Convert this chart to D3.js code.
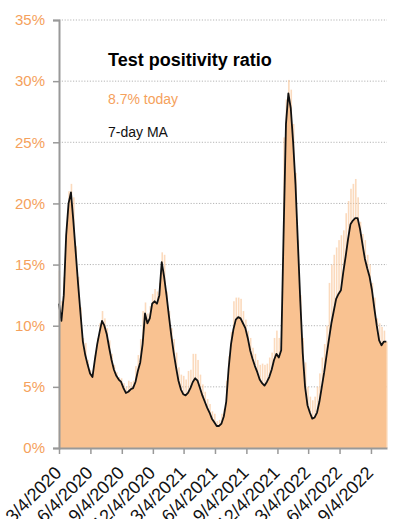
<!DOCTYPE html>
<html lang="en">
<head>
  <meta charset="UTF-8">
  <title>Test positivity ratio</title>
  <script src="https://d3js.org/d3.v7.min.js"></script>
  <style>
    body {
      margin: 0;
      background: #fff;
      font-family: "Liberation Sans", Arial, sans-serif;
    }
    .grid line {
      stroke: #b5b5b5;
      stroke-dasharray: 1.2 1.6;
    }
  </style>
</head>
<body>
  <div id="chart"></div>

  <script>
    const width = 414, height = 519;

    // weekly samples starting 3/4/2020
    const startDate = new Date(2020, 2, 4);
    const endDate = new Date(2022, 9, 21);

    // 7-day moving average (%), one value per week
    const maValues = [
      11.8, 10.4, 12.5, 17.4, 20.0, 20.9, 18.6, 16.0, 13.4, 11.0,
      8.7, 7.6, 6.8, 6.1, 5.8, 7.2, 8.5, 9.5, 10.4, 10.0,
      9.3, 8.2, 7.2, 6.4, 5.9, 5.6, 5.4, 4.9, 4.5, 4.6,
      4.8, 4.9, 5.4, 6.3, 7.0, 8.5, 11.0, 10.2, 10.6, 11.8,
      12.0, 11.8, 12.5, 15.2, 14.0, 12.5, 10.8, 9.2, 7.8, 6.6,
      5.5, 4.8, 4.4, 4.3, 4.5, 4.9, 5.4, 5.7, 5.5, 4.9,
      4.3, 3.8, 3.3, 2.9, 2.4, 2.1, 1.8, 1.8, 2.0, 2.6,
      3.8, 6.5, 8.5, 9.7, 10.5, 10.7, 10.6, 10.2, 9.8, 9.0,
      8.0, 7.3, 6.7, 6.2, 5.6, 5.3, 5.1, 5.4, 5.8, 6.4,
      7.2, 7.7, 7.4, 8.0, 17.5, 26.5, 29.0, 27.8, 25.0, 21.5,
      16.7, 12.0, 7.8, 5.0, 3.5, 2.9, 2.4, 2.5, 2.9, 3.8,
      5.0, 6.2, 7.6, 8.9, 10.2, 11.2, 12.2, 12.6, 12.9, 14.4,
      15.7, 17.1, 18.3, 18.6, 18.8, 18.8, 17.9, 16.7, 15.5, 14.7,
      14.0, 12.9, 11.4, 10.0, 8.8, 8.4, 8.7, 8.7
    ];

    // highest daily ratio (%) in each week
    const dailyPeak = [
      14.5, 12.0, 14.0, 17.6, 21.0, 21.6, 20.5, 16.5, 14.0, 11.5,
      9.0, 8.6, 7.2, 6.4, 6.0, 7.6, 9.0, 10.2, 11.2, 10.6,
      9.8, 8.8, 7.7, 6.8, 6.2, 5.8, 5.7, 5.3, 5.0, 5.5,
      5.4, 5.5, 6.7, 7.6, 8.9, 11.2, 11.9, 11.0, 11.6, 12.6,
      13.0, 12.8, 13.5, 16.0, 15.8, 12.8, 11.2, 9.8, 8.9, 7.8,
      6.6, 6.0, 5.9, 5.6, 6.3, 6.4, 7.7, 7.7, 7.2, 6.0,
      5.2, 4.6, 4.0, 3.6, 3.0, 2.8, 2.2, 2.3, 2.8, 3.2,
      5.5, 7.5, 9.5, 12.0, 12.3, 12.3, 12.2, 11.2, 10.5, 9.6,
      9.0, 8.2, 7.7, 7.2, 6.8, 6.9, 6.8, 6.9, 7.4, 7.8,
      9.0, 9.6, 9.0, 9.6, 25.4, 28.5, 30.1, 29.3, 26.5, 22.5,
      17.0, 12.5, 9.0, 7.0, 5.0, 4.2, 3.9, 4.2, 5.0, 6.1,
      7.4, 8.5, 10.0, 13.5, 15.0, 15.8, 16.4, 17.0, 17.4, 17.8,
      19.2, 20.2, 21.2, 21.6, 22.0, 20.5, 18.5, 17.5, 17.0, 15.8,
      15.0, 13.5, 12.3, 10.6, 10.2, 9.9, 9.6, 8.7
    ];

    const yTicks = [0, 5, 10, 15, 20, 25, 30, 35];
    const xTickDates = [
      "3/4/2020", "6/4/2020", "9/4/2020", "12/4/2020",
      "3/4/2021", "6/4/2021", "9/4/2021", "12/4/2021",
      "3/4/2022", "6/4/2022", "9/4/2022"
    ];
    const todayValue = 8.7;

    const parseDate = d3.timeParse("%-m/%-d/%Y");
    const data = maValues.map((v, i) => ({
      date: d3.timeDay.offset(startDate, i * 7),
      ma: v,
      peak: dailyPeak[i]
    }));

    const margin = {top: 20, right: 27, bottom: 71, left: 59};

    const svg = d3.select("#chart")
                  .append("svg")
                  .attr("width", width)
                  .attr("height", height);

    const x = d3.scaleTime()
                .domain([startDate, endDate])
                .range([margin.left, width - margin.right]);

    const y = d3.scaleLinear()
                .domain([0, 35])
                .range([height - margin.bottom, margin.top]);

    const orange = "#f5a15c";
    const fillColor = "#f9c291";

    // gridlines
    svg.append("g")
       .attr("class", "grid")
       .selectAll("line")
       .data(yTicks.filter(d => d > 0))
       .join("line")
       .attr("x1", margin.left)
       .attr("x2", width - margin.right)
       .attr("y1", d => y(d))
       .attr("y2", d => y(d));

    // daily spikes (lighter, thin)
    svg.append("g")
       .selectAll("rect")
       .data(data)
       .join("rect")
       .attr("x", d => x(d.date) - 0.3)
       .attr("width", 1.6)
       .attr("y", d => y(d.peak))
       .attr("height", d => y(0) - y(d.peak))
       .attr("fill", fillColor)
       .attr("opacity", 0.6);

    // solid body under the average
    const area = d3.area()
                   .x(d => x(d.date))
                   .y0(y(0))
                   .y1(d => y(d.ma));

    svg.append("path")
       .datum(data)
       .attr("d", area)
       .attr("fill", fillColor);

    // 7-day MA line
    const line = d3.line()
                   .x(d => x(d.date))
                   .y(d => y(d.ma));

    svg.append("path")
       .datum(data)
       .attr("d", line)
       .attr("fill", "none")
       .attr("stroke", "#111")
       .attr("stroke-width", 1.8)
       .attr("stroke-linejoin", "round");

    // y axis
    const yAxis = svg.append("g")
       .attr("transform", `translate(${margin.left},0)`)
       .call(d3.axisLeft(y).tickValues(yTicks).tickSize(6).tickPadding(8)
               .tickFormat(d => d + "%"));
    yAxis.select(".domain").attr("stroke", "#999").attr("stroke-width", 2);
    yAxis.selectAll(".tick line").attr("stroke", "#999").attr("stroke-width", 1.5);
    yAxis.selectAll(".tick text")
         .attr("fill", orange)
         .style("font-family", "inherit")
         .style("font-size", "15px");

    // x axis
    const xAxis = svg.append("g")
       .attr("transform", `translate(0,${y(0)})`)
       .call(d3.axisBottom(x).tickValues(xTickDates.map(parseDate)).tickSize(6)
               .tickSizeOuter(0).tickFormat(d3.timeFormat("%-m/%-d/%Y")));
    xAxis.select(".domain").attr("stroke", "#999").attr("stroke-width", 2);
    xAxis.selectAll(".tick line").attr("stroke", "#999").attr("stroke-width", 1.5);
    xAxis.selectAll(".tick text")
         .attr("fill", "#111")
         .style("font-family", "inherit")
         .style("font-size", "18px")
         .attr("text-anchor", "end")
         .attr("x", 0).attr("y", 0).attr("dy", 0)
         .attr("transform", "translate(3,26) rotate(-45)");

    // annotations
    svg.append("text")
       .attr("x", 108).attr("y", 66)
       .attr("font-size", 18).attr("font-weight", "bold")
       .attr("fill", "#000")
       .text("Test positivity ratio");

    svg.append("text")
       .attr("x", 108).attr("y", 104)
       .attr("font-size", 14)
       .attr("fill", orange)
       .text(`${todayValue}% today`);

    svg.append("text")
       .attr("x", 108).attr("y", 137)
       .attr("font-size", 14)
       .attr("fill", "#111")
       .text("7-day MA");
  </script>
</body>
</html>
